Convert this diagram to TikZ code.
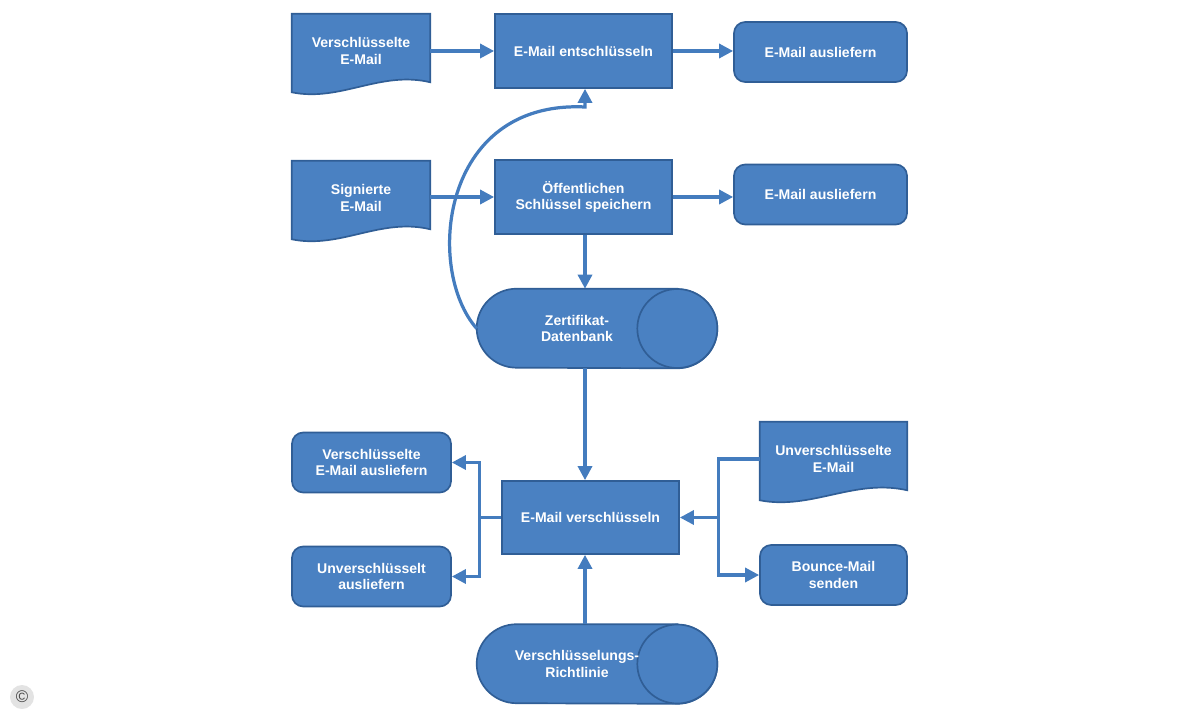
\documentclass[tikz,border=0pt]{standalone}
\usepackage{fontspec}
\setmainfont{Liberation Sans}
\usepackage{tikz}
\usetikzlibrary{positioning,calc,backgrounds,arrows.meta}

\definecolor{boxblue}{RGB}{74,129,194}
\definecolor{boxline}{RGB}{48,94,150}
\definecolor{flowblue}{RGB}{68,124,190}

\tikzset{
  label text/.style={text=white, font=\fontsize{10}{12}\selectfont\bfseries, align=center},
  box/.style={label text, fill=boxblue, draw=boxline, line width=1.2pt, inner sep=2pt},
  proc/.style={box, minimum width=4.425cm, minimum height=1.85cm},
  term/.style={box, rounded corners=8pt, minimum height=1.5cm},
  doc/.style={label text, minimum height=1.85cm},
  store/.style={label text, minimum width=5cm, minimum height=1.975cm},
  shapefill/.style={fill=boxblue, draw=boxline, line width=1.2pt},
  flowline/.style={draw=flowblue, line width=2.3pt},
  flow/.style={flowline, -{Triangle[length=10pt,width=10pt]}}
}

\newcommand{\docshape}[1]{%
  \path[shapefill] (#1.north west) -- (#1.north east) -- ($(#1.south east)+(0,-6)$)
    .. controls ($(#1.south west)!0.64!(#1.south east)+(0,-18)$)
    and ($(#1.south west)!0.35!(#1.south east)+(0,14)$) .. ($(#1.south west)+(0,4)$) -- cycle;}
\newcommand{\storeshape}[1]{%
  \path[shapefill] (#1.north east) -- ([xshift=1cm]#1.north west)
    arc[start angle=90, end angle=270, x radius=1cm, y radius=0.9875cm]
    -- (#1.south east)
    arc[start angle=-90, end angle=90, x radius=1cm, y radius=0.9875cm] -- cycle;
  \draw[shapefill] (#1.east) ellipse[x radius=1cm, y radius=0.9875cm];}

\begin{document}
\begin{tikzpicture}[x=0.025cm, y=-0.025cm]

\useasboundingbox (0,0) rectangle (1200,720);

\node[doc, minimum width=3.45cm] (vmail) at (361,51) {Verschlüsselte\\E-Mail};
\node[proc] (ent) at (583.5,51) {E-Mail entschlüsseln};
\node[term, minimum width=4.325cm] (out1) at (820.5,52) {E-Mail ausliefern};

\node[doc, minimum width=3.45cm] (smail) at (361,198) {Signierte\\E-Mail};
\node[proc] (keep) at (583.5,197) {Öffentlichen\\Schlüssel speichern};
\node[term, minimum width=4.325cm] (out2) at (820.5,194.5) {E-Mail ausliefern};

\node[store] (db) at (577,328.5) {Zertifikat-\\Datenbank};

\node[proc, minimum height=1.825cm] (enc) at (590.5,517.5) {E-Mail verschlüsseln};
\node[term, minimum width=3.975cm] (encout) at (371.5,462.5) {Verschlüsselte\\E-Mail ausliefern};
\node[term, minimum width=3.975cm] (plainout) at (371.5,576.5) {Unverschlüsselt\\ausliefern};
\node[doc, minimum width=3.675cm] (umail) at (833.5,459) {Unverschlüsselte\\E-Mail};
\node[term, minimum width=3.675cm] (bounce) at (833.5,575) {Bounce-Mail\\senden};

\node[store] (policy) at (577,664) {Verschlüsselungs-\\Richtlinie};

\node[circle, fill=gray!22, minimum size=0.6cm, inner sep=0pt, text=gray!55!black,
  font=\fontsize{12}{12}\selectfont] (copy) at (22,697) {\textcopyright};

\begin{scope}[on background layer]
  \docshape{vmail}
  \docshape{smail}
  \docshape{umail}
  \storeshape{db}
  \storeshape{policy}
\end{scope}

\coordinate (spine) at (585,0);
\coordinate (lj) at ($(enc.west)+(-22,0)$);
\coordinate (rj) at ($(enc.east)+(39,0)$);

\draw[flow] (vmail.east) -- (ent.west);
\draw[flow] (ent.east) -- (ent.east -| out1.west);
\draw[flow] (keep.west -| smail.east) -- (keep.west);
\draw[flow] (keep.east) -- (keep.east -| out2.west);
\draw[flow] (keep.south -| spine) -- (db.north -| spine);
\draw[flow] (db.west) .. controls (425,270) and (440,100) .. (585,107) -- (ent.south -| spine);
\draw[flow] (db.south -| spine) -- (enc.north -| spine);
\draw[flow] (policy.north -| spine) -- (enc.south -| spine);

\draw[flowline] (enc.west) -- (lj);
\draw[flow] (lj) |- (encout.east);
\draw[flow] (lj) |- (plainout.east);

\draw[flow] (umail.west) -| (rj) -- (enc.east);
\draw[flow] (rj) |- (bounce.west);

\end{tikzpicture}
\end{document}
